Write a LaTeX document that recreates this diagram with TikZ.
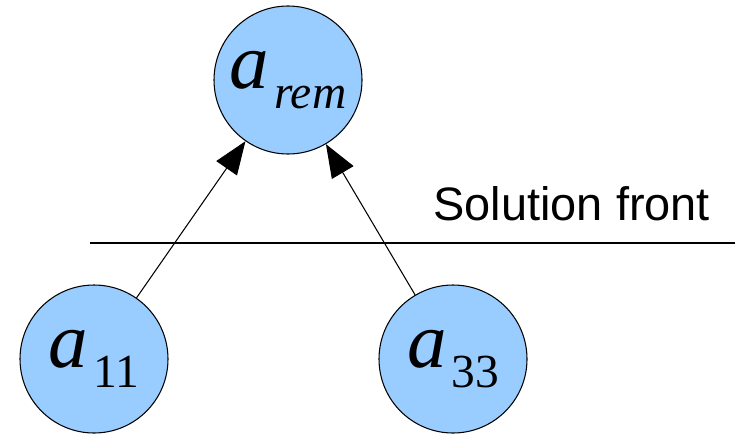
\documentclass[tikz,border=0pt]{standalone}
\usepackage{fontspec}
\setmainfont{Liberation Serif}
\newfontfamily\frontfont{Liberation Sans}
\usetikzlibrary{arrows.meta}
\definecolor{nodeblue}{HTML}{99CCFF}
\newcommand{\varlabel}[2]{{\fontsize{45}{46}\selectfont\itshape #1}\kern0.1cm\raisebox{-0.4cm}{\fontsize{27}{28}\selectfont #2}}

\begin{document}
\begin{tikzpicture}[node distance={71.8mm}, line width=0.6pt, var/.style = {draw, circle, fill=nodeblue, minimum size=29.6mm, inner sep=0pt}, tip/.style = {-{Triangle[length=6.6mm, width=5mm]}}]
    \useasboundingbox (0,0) rectangle (14.7,-8.66);
    \node[var] (arem) at (5.76,-1.6) {\varlabel{a}{\textit{rem}}};
    \node[var] (a11) at (1.88,-7.18) {\varlabel{a}{11}};
    \node[var, right of=a11] (a33) {\varlabel{a}{33}};
    \coordinate (frontL) at (1.8,-4.86);
    \coordinate (frontR) at (14.7,-4.86);
    \draw (frontL) -- (frontR);
    \node[anchor=base west, inner sep=0pt, font=\frontfont\fontsize{26.7}{28}\selectfont] (front) at (8.66,-4.4) {Solution front};
    \draw[tip] (a11) -- (arem);
    \draw[tip] (a33) -- (arem);
\end{tikzpicture}
\end{document}
